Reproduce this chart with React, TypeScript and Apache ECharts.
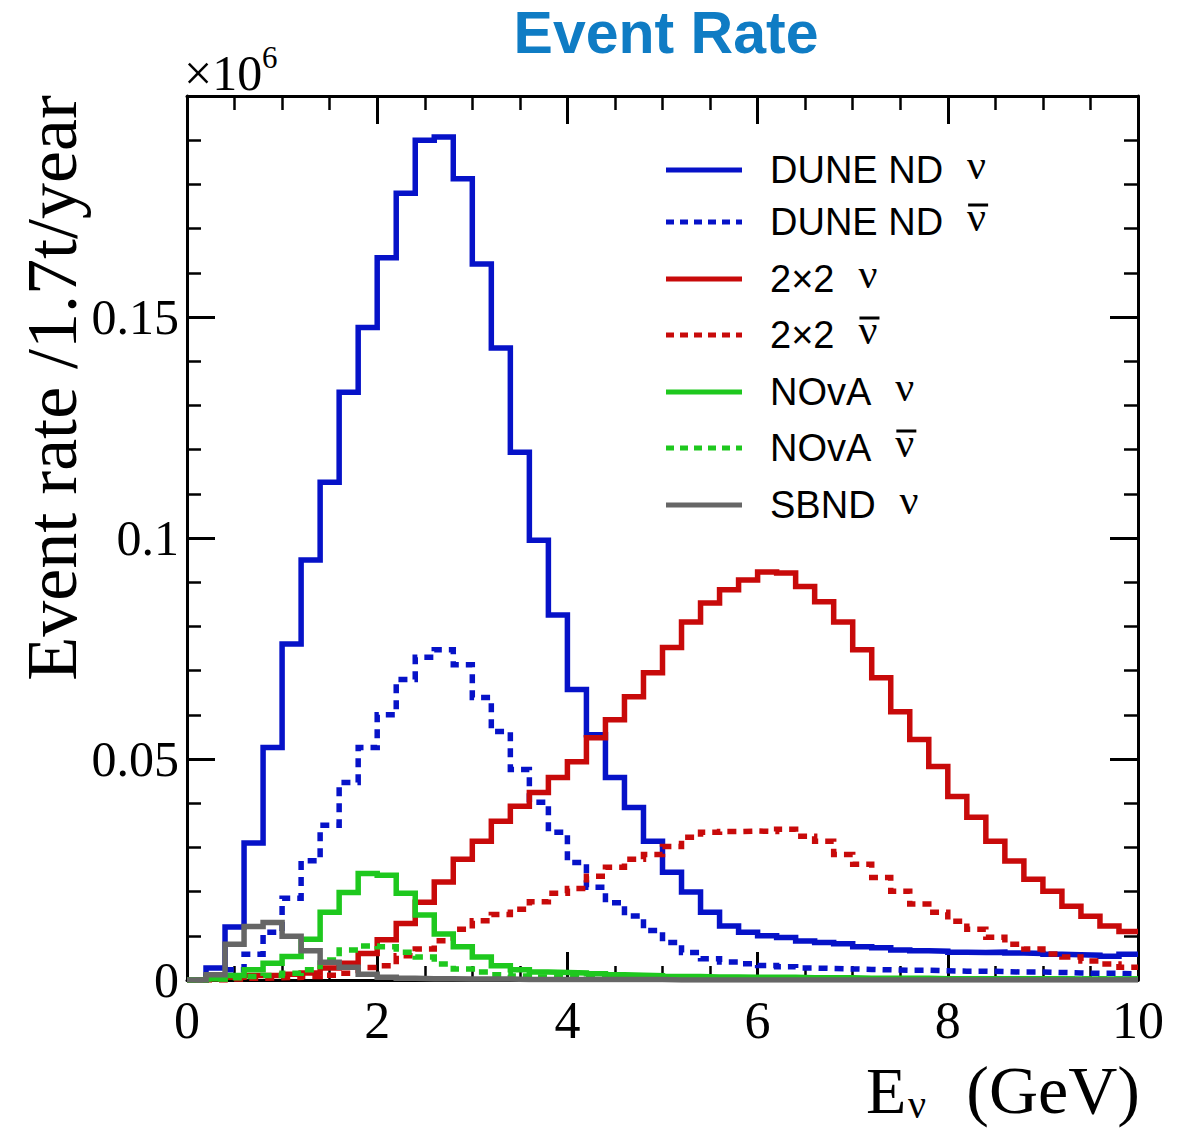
import React, { useEffect, useRef } from "react";
import * as echarts from "echarts";

// Bin edges (GeV), 0.2 GeV bins from 0 to 10
const binEdges = [0, 0.2, 0.4, 0.6, 0.8, 1, 1.2, 1.4, 1.6, 1.8, 2, 2.2, 2.4, 2.6, 2.8, 3, 3.2, 3.4, 3.6, 3.8, 4, 4.2, 4.4, 4.6, 4.8, 5, 5.2, 5.4, 5.6, 5.8, 6, 6.2, 6.4, 6.6, 6.8, 7, 7.2, 7.4, 7.6, 7.8, 8, 8.2, 8.4, 8.6, 8.8, 9, 9.2, 9.4, 9.6, 9.8, 10];

const xTicks = [0, 2, 4, 6, 8, 10];
const yTicks = [0, 0.05, 0.1, 0.15];

// Event rate per bin (x10^6 /1.7t/year)
const duneNu = [0, 0.0027, 0.012, 0.031, 0.0526, 0.076, 0.095, 0.1126, 0.133, 0.1476, 0.1634, 0.178, 0.19, 0.1907, 0.1813, 0.162, 0.143, 0.1194, 0.0995, 0.0826, 0.0657, 0.0555, 0.0458, 0.039, 0.0314, 0.0244, 0.0199, 0.0153, 0.0122, 0.0108, 0.01, 0.0096, 0.0088, 0.0085, 0.0082, 0.0075, 0.0073, 0.0068, 0.0066, 0.0065, 0.0063, 0.0062, 0.0063, 0.0061, 0.006, 0.0058, 0.0057, 0.0056, 0.0054, 0.0058];
const duneNubar = [0, 0.0008, 0.0023, 0.0058, 0.0108, 0.0185, 0.027, 0.035, 0.0447, 0.0526, 0.06, 0.068, 0.073, 0.0747, 0.0713, 0.0639, 0.0562, 0.0476, 0.0402, 0.0334, 0.0266, 0.021, 0.0175, 0.0145, 0.0112, 0.0085, 0.0062, 0.0048, 0.0041, 0.0037, 0.0033, 0.003, 0.0027, 0.0026, 0.0025, 0.0024, 0.0023, 0.0022, 0.0022, 0.0021, 0.002, 0.002, 0.0019, 0.0018, 0.0018, 0.0017, 0.0016, 0.0015, 0.0015, 0.0014];
const twoNu = [0, 0.0003, 0.0006, 0.001, 0.001, 0.0013, 0.0016, 0.0027, 0.0038, 0.006, 0.0091, 0.0128, 0.0176, 0.0222, 0.0273, 0.0314, 0.0359, 0.0393, 0.0424, 0.0458, 0.0494, 0.0548, 0.0589, 0.0641, 0.0695, 0.0752, 0.081, 0.0853, 0.0883, 0.0905, 0.0923, 0.0921, 0.089, 0.0856, 0.081, 0.0747, 0.0684, 0.0607, 0.0544, 0.0483, 0.0415, 0.0368, 0.0314, 0.0269, 0.0228, 0.0201, 0.0167, 0.0144, 0.0122, 0.011];
const twoNubar = [0, 0, 0.0002, 0.0004, 0.0005, 0.0006, 0.0008, 0.0011, 0.0015, 0.0028, 0.0032, 0.0055, 0.007, 0.0089, 0.0115, 0.0134, 0.0148, 0.016, 0.0177, 0.0196, 0.0207, 0.0235, 0.0255, 0.0273, 0.0284, 0.0302, 0.0323, 0.0334, 0.0336, 0.0337, 0.0336, 0.0341, 0.0325, 0.0314, 0.0284, 0.0262, 0.0232, 0.0201, 0.0172, 0.0153, 0.0133, 0.0115, 0.0097, 0.0081, 0.007, 0.0059, 0.0052, 0.0043, 0.0036, 0.0029];
const novaNu = [0, 0.0003, 0.001, 0.0023, 0.0038, 0.0053, 0.0092, 0.0153, 0.0198, 0.0241, 0.0237, 0.0196, 0.0147, 0.0104, 0.0075, 0.0052, 0.0032, 0.0023, 0.0018, 0.0017, 0.0016, 0.0014, 0.0012, 0.0011, 0.001, 0.0008, 0.0008, 0.0007, 0.0007, 0.0006, 0.0006, 0.0006, 0.0005, 0.0005, 0.0005, 0.0004, 0.0004, 0.0004, 0.0004, 0.0003, 0.0003, 0.0003, 0.0003, 0.0003, 0.0003, 0.0003, 0.0002, 0.0002, 0.0002, 0.0002];
const novaNubar = [0, 0.0002, 0.0005, 0.0008, 0.001, 0.0015, 0.0023, 0.0045, 0.0068, 0.0077, 0.0075, 0.0063, 0.0052, 0.0036, 0.0025, 0.0018, 0.0012, 0.0009, 0.0007, 0.0006, 0.0005, 0.0005, 0.0004, 0.0004, 0.0004, 0.0003, 0.0003, 0.0003, 0.0003, 0.0003, 0.0003, 0.0003, 0.0003, 0.0003, 0.0003, 0.0002, 0.0002, 0.0002, 0.0002, 0.0002, 0.0002, 0.0002, 0.0002, 0.0002, 0.0002, 0.0002, 0.0002, 0.0002, 0.0002, 0.0002];
const sbndNu = [0, 0.0012, 0.0081, 0.0121, 0.013, 0.0099, 0.0066, 0.004, 0.0029, 0.0013, 0.0006, 0.0004, 0.0003, 0.0003, 0.0002, 0.0002, 0.0002, 0.0001, 0.0001, 0.0001, 0.0001, 0.0001, 0.0001, 0.0001, 0.0001, 0, 0, 0, 0, 0, 0, 0, 0, 0, 0, 0, 0, 0, 0, 0, 0, 0, 0, 0, 0, 0, 0, 0, 0, 0];

const seriesNames = ["DUNE ND ν", "DUNE ND ν̄", "2×2 ν", "2×2 ν̄", "NOvA ν", "NOvA ν̄", "SBND ν"];
const legendLabels = ["DUNE ND", "DUNE ND", "2×2", "2×2", "NOvA", "NOvA", "SBND"];
const antiNu = [false, true, false, true, false, true, false];

const BLUE = "#0612c8";
const RED = "#c80a0a";
const GREEN = "#1ec81e";
const GRAY = "#666666";
const colors = [BLUE, BLUE, RED, RED, GREEN, GREEN, GRAY];
const allValues = [duneNu, duneNubar, twoNu, twoNubar, novaNu, novaNubar, sbndNu];

const PLOT_DASH = [9, 7];
const LEG_DASH = [8, 6];

function histData(vals: number[]) {
  const pts: number[][] = vals.map((v, i) => [binEdges[i], v]);
  pts.push([binEdges[binEdges.length - 1], vals[vals.length - 1]]);
  return pts;
}

function textWidth(t: string, font: string) {
  const c = document.createElement("canvas").getContext("2d");
  if (!c) return t.length * 20;
  c.font = font;
  return c.measureText(t).width;
}

export default function App() {
  const ref = useRef<HTMLDivElement>(null);
  useEffect(() => {
    if (!ref.current) return;
    const chart = echarts.init(ref.current, null, { renderer: "svg" });

    const axisCommon = {
      type: "value" as const,
      axisLine: { show: true, onZero: false, lineStyle: { color: "#000", width: 3 } },
      axisTick: { show: true, inside: true, length: 28, lineStyle: { color: "#000", width: 3 } },
      splitLine: { show: false },
    };

    const serif = '"Liberation Serif", "Times New Roman", serif';

    const legFont = '38px "Liberation Sans"';
    const rowY = [170, 222, 279, 335, 392, 448, 505];
    const legendEls: any[] = [];
    legendLabels.forEach((lab, i) => {
      const y = rowY[i];
      legendEls.push({
        type: "line",
        shape: { x1: 666, y1: y, x2: 742, y2: y },
        style: { stroke: colors[i], lineWidth: 5, lineDash: antiNu[i] ? LEG_DASH : null },
        z: 100,
      });
      legendEls.push({
        type: "text",
        x: 770,
        y: y,
        style: {
          text: lab,
          fill: "#000",
          font: legFont,
          textAlign: "left",
          align: "left",
          textVerticalAlign: "middle",
          verticalAlign: "middle",
        },
        z: 100,
      });
      const nx = 770 + textWidth(lab, legFont) + 24;
      legendEls.push({
        type: "text",
        x: nx,
        y: y - 5,
        style: {
          text: "ν",
          fill: "#000",
          font: '42px "Liberation Serif"',
          textAlign: "left",
          align: "left",
          textVerticalAlign: "middle",
          verticalAlign: "middle",
        },
        z: 100,
      });
      if (antiNu[i]) {
        legendEls.push({
          type: "line",
          shape: { x1: nx + 1, y1: y - 17, x2: nx + 21, y2: y - 17 },
          style: { stroke: "#000", lineWidth: 3 },
          z: 100,
        });
      }
    });

    const option: any = {
      animation: false,
      backgroundColor: "#fff",
      grid: { left: 187, right: 49, top: 96, bottom: 151, containLabel: false },
      xAxis: [
        {
          ...axisCommon,
          min: xTicks[0],
          max: xTicks[xTicks.length - 1],
          interval: 2,
          position: "bottom",
          minorTick: { show: true, splitNumber: 4, length: 14, lineStyle: { color: "#000", width: 2.5 } },
          axisLabel: { color: "#000", fontFamily: serif, fontSize: 52, margin: 14 },
        },
        {
          ...axisCommon,
          min: xTicks[0],
          max: xTicks[xTicks.length - 1],
          interval: 2,
          position: "top",
          minorTick: { show: true, splitNumber: 4, length: 14, lineStyle: { color: "#000", width: 2.5 } },
          axisLabel: { show: false },
        },
      ],
      yAxis: [
        {
          ...axisCommon,
          min: yTicks[0],
          max: 0.2,
          interval: 0.05,
          position: "left",
          minorTick: { show: true, splitNumber: 5, length: 14, lineStyle: { color: "#000", width: 2.5 } },
          axisLabel: {
            color: "#000",
            fontFamily: serif,
            fontSize: 50,
            margin: 8,
            showMaxLabel: false,
            formatter: (v: number) => (yTicks.some((t) => Math.abs(t - v) < 1e-9) ? String(+v.toFixed(2)) : ""),
          },
        },
        {
          ...axisCommon,
          min: yTicks[0],
          max: 0.2,
          interval: 0.05,
          position: "right",
          minorTick: { show: true, splitNumber: 5, length: 14, lineStyle: { color: "#000", width: 2.5 } },
          axisLabel: { show: false },
        },
      ],
      series: allValues.map((vals, i) => ({
        name: seriesNames[i],
        type: "line",
        xAxisIndex: 0,
        yAxisIndex: 0,
        step: "end",
        showSymbol: false,
        symbol: "none",
        silent: true,
        emphasis: { disabled: true },
        lineStyle: {
          color: colors[i],
          width: 5.5,
          type: antiNu[i] ? PLOT_DASH : "solid",
          cap: "butt",
          join: "miter",
        },
        data: histData(vals),
      })),
      graphic: [
        {
          type: "text",
          x: 666,
          y: 33,
          style: {
            text: "Event Rate",
            fill: "#0f7cc4",
            font: 'bold 59px "Liberation Sans"',
            textAlign: "center",
            align: "center",
            textVerticalAlign: "middle",
            verticalAlign: "middle",
          },
        },
        {
          type: "text",
          x: 184,
          y: 73,
          style: {
            text: "×10",
            fill: "#000",
            font: '50px "Liberation Serif"',
            textAlign: "left",
            align: "left",
            textVerticalAlign: "middle",
            verticalAlign: "middle",
          },
        },
        {
          type: "text",
          x: 262,
          y: 57,
          style: {
            text: "6",
            fill: "#000",
            font: '31px "Liberation Serif"',
            textAlign: "left",
            align: "left",
            textVerticalAlign: "middle",
            verticalAlign: "middle",
          },
        },
        {
          type: "text",
          x: 52,
          y: 95,
          rotation: Math.PI / 2,
          style: {
            text: "Event rate /1.7t/year",
            fill: "#000",
            font: '72px "Liberation Serif"',
            textAlign: "right",
            align: "right",
            textVerticalAlign: "middle",
            verticalAlign: "middle",
          },
        },
        {
          type: "text",
          x: 866,
          y: 1090,
          style: {
            text: "E",
            fill: "#000",
            font: '66px "Liberation Serif"',
            textAlign: "left",
            align: "left",
            textVerticalAlign: "middle",
            verticalAlign: "middle",
          },
        },
        {
          type: "text",
          x: 908,
          y: 1104,
          style: {
            text: "ν",
            fill: "#000",
            font: '40px "Liberation Serif"',
            textAlign: "left",
            align: "left",
            textVerticalAlign: "middle",
            verticalAlign: "middle",
          },
        },
        {
          type: "text",
          x: 1140,
          y: 1090,
          style: {
            text: "(GeV)",
            fill: "#000",
            font: '68px "Liberation Serif"',
            textAlign: "right",
            align: "right",
            textVerticalAlign: "middle",
            verticalAlign: "middle",
          },
        },
        ...legendEls,
      ],
    };

    chart.setOption(option);
    return () => chart.dispose();
  }, []);

  return (
    <div
      ref={ref}
      style={{ position: "fixed", left: 0, top: 0, width: 1187, height: 1131, background: "#fff" }}
    />
  );
}
